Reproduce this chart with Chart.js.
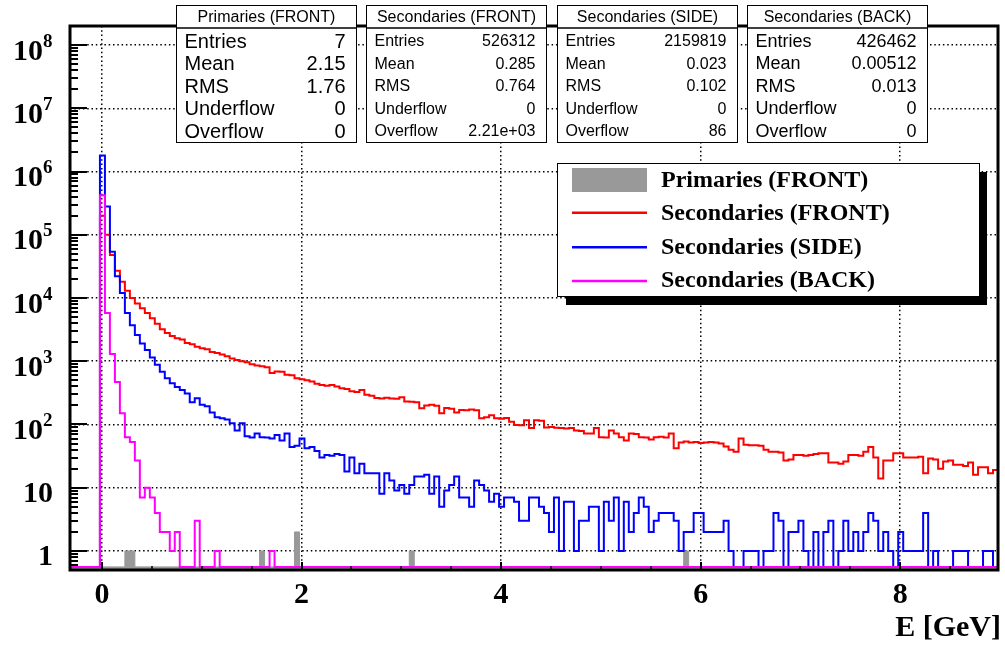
<!DOCTYPE html>
<html>
<head>
<meta charset="utf-8">
<script src="https://cdn.jsdelivr.net/npm/chart.js@4.4.1/dist/chart.umd.min.js"></script>
<style>
    html, body { margin: 0; padding: 0; background: #fff; }
    #wrap { width: 1005px; height: 646px; position: relative; }
</style>
</head>
<body>
<div id="wrap"><canvas id="energyChart"></canvas></div>
<script>
// ----------------------
//  DATA
// ----------------------

// binning of the histograms (GeV)
const binLow = -0.02;
const binWidth = 0.05;
const xMin = -0.32;
const xMax = 8.98;
const yMin = 0.5;
const yMax = 2e8;
// empty bins are drawn on the bottom of the frame, like ROOT does on a log axis
const zeroLevel = 0.56;

const primariesFront = [
    0, 0, 0, 0, 0, 1, 1, 0, 0, 0,
    0, 0, 0, 0, 0, 0, 0, 0, 0, 0,
    0, 0, 0, 0, 0, 0, 0, 0, 0, 0,
    0, 0, 1, 0, 0, 0, 0, 0, 0, 2,
    0, 0, 0, 0, 0, 0, 0, 0, 0, 0,
    0, 0, 0, 0, 0, 0, 0, 0, 0, 0,
    0, 0, 1, 0, 0, 0, 0, 0, 0, 0,
    0, 0, 0, 0, 0, 0, 0, 0, 0, 0,
    0, 0, 0, 0, 0, 0, 0, 0, 0, 0,
    0, 0, 0, 0, 0, 0, 0, 0, 0, 0,
    0, 0, 0, 0, 0, 0, 0, 0, 0, 0,
    0, 0, 0, 0, 0, 0, 0, 1, 0, 0,
    0, 0, 0, 0, 0, 0, 0, 0, 0, 0,
    0, 0, 0, 0, 0, 0, 0, 0, 0, 0,
    0, 0, 0, 0, 0, 0, 0, 0, 0, 0,
    0, 0, 0, 0, 0, 0, 0, 0, 0, 0,
    0, 0, 0, 0, 0, 0, 0, 0, 0, 0,
    0, 0, 0, 0, 0, 0, 0, 0, 0, 0
];

const secondariesFront = [
    200000, 100000, 48000, 27000, 18000, 13000, 10000, 8200, 6900, 5800,
    4800, 3900, 3200, 2800, 2500, 2300, 2200, 1950, 1850, 1700,
    1600, 1550, 1400, 1350, 1280, 1200, 1100, 1050, 1000, 960,
    900, 860, 830, 800, 650, 690, 680, 610, 600, 540,
    520, 500, 480, 440, 420, 410, 420, 400, 375, 365,
    335, 325, 350, 295, 285, 262, 258, 265, 258, 255,
    270, 230, 228, 225, 180, 200, 205, 198, 150, 182,
    178, 155, 170, 168, 172, 168, 125, 130, 140, 125,
    123, 127, 110, 98, 97, 117, 88, 117, 115, 90,
    91, 89, 88, 86, 88, 80, 79, 72, 72, 88,
    63, 62, 80, 72, 63, 56, 72, 71, 63, 62,
    58, 63, 64, 62, 72, 42, 52, 54, 52, 53,
    51, 52, 53, 52, 50, 45, 40, 37, 60, 48,
    47, 47, 46, 40, 37, 37, 36, 27, 28, 33,
    33, 32, 33, 34, 35, 35, 25, 25, 24, 26,
    33, 33, 32, 37, 44, 30, 14, 27, 27, 35,
    35, 30, 30, 30, 31, 17, 29, 28, 20, 26,
    27, 23, 23, 22, 25, 16, 21, 21, 17, 19
];

const secondariesSide = [
    1800000, 280000, 54000, 22000, 12000, 5800, 3700, 2600, 1900, 1500,
    1150, 880, 680, 540, 450, 390, 350, 310, 225, 260,
    205, 195, 155, 130, 125, 120, 105, 80, 105, 65,
    62, 72, 63, 62, 60, 68, 56, 72, 44, 46,
    60, 42, 44, 38, 30, 33, 32, 34, 33, 18,
    30, 17, 24, 17, 17, 17, 8, 17, 13, 9,
    11, 8, 11, 15, 15, 16, 8, 15, 5, 9,
    11, 15, 7, 7, 5, 13, 11, 9, 6, 8,
    5, 7, 7, 6, 3, 3, 7, 7, 5, 4,
    2, 7, 1, 6, 6, 1, 3, 3, 5, 5,
    1, 6, 3, 7, 1, 6, 2, 4, 7, 5,
    2, 3, 4, 4, 4, 3, 1, 2, 2, 4,
    4, 2, 2, 2, 2, 3, 1, 0, 0, 1,
    1, 1, 0, 1, 1, 4, 3, 0, 2, 2,
    3, 1, 0, 2, 0, 2, 3, 0, 1, 3,
    1, 2, 1, 2, 4, 3, 1, 2, 1, 0,
    2, 1, 1, 1, 1, 4, 0, 1, 0, 0,
    0, 1, 1, 1, 0, 0, 0, 1, 1, 0
];

const secondariesBack = [
    420000, 5800, 1300, 470, 150, 63, 53, 27, 7, 10,
    7, 4, 2, 2, 1, 2, 0, 0, 0, 3,
    0, 0, 0, 1, 0, 0, 0, 0, 0, 0,
    0, 0, 0, 0, 1, 0, 0, 0, 0, 0,
    0, 0, 0, 0, 0, 0, 0, 0, 0, 0,
    0, 0, 0, 0, 0, 0, 0, 0, 0, 0,
    0, 0, 0, 0, 0, 0, 0, 0, 0, 0,
    0, 0, 0, 0, 0, 0, 0, 0, 0, 0,
    0, 0, 0, 0, 0, 0, 0, 0, 0, 0,
    0, 0, 0, 0, 0, 0, 0, 0, 0, 0,
    0, 0, 0, 0, 0, 0, 0, 0, 0, 0,
    0, 0, 0, 0, 0, 0, 0, 0, 0, 0,
    0, 0, 0, 0, 0, 0, 0, 0, 0, 0,
    0, 0, 0, 0, 0, 0, 0, 0, 0, 0,
    0, 0, 0, 0, 0, 0, 0, 0, 0, 0,
    0, 0, 0, 0, 0, 0, 0, 0, 0, 0,
    0, 0, 0, 0, 0, 0, 0, 0, 0, 0,
    0, 0, 0, 0, 0, 0, 0, 0, 0, 0
];

const seriesNames = ['Primaries (FRONT)', 'Secondaries (FRONT)', 'Secondaries (SIDE)', 'Secondaries (BACK)'];
const seriesColors = ['#999999', '#ff0000', '#0000ff', '#ff00ff'];

// axis ticks
const xTicks = [0, 2, 4, 6, 8];
const xTickLabels = ['0', '2', '4', '6', '8'];
const yTicks = [1, 10, 1e2, 1e3, 1e4, 1e5, 1e6, 1e7, 1e8];
const yTickBase = ['1', '10', '10', '10', '10', '10', '10', '10', '10'];
const yTickExp = ['', '', '2', '3', '4', '5', '6', '7', '8'];
const xTitle = 'E [GeV]';

// statistics boxes
const statNames = ['Entries', 'Mean', 'RMS', 'Underflow', 'Overflow'];
const statPrimariesFront = ['7', '2.15', '1.76', '0', '0'];
const statSecondariesFront = ['526312', '0.285', '0.764', '0', '2.21e+03'];
const statSecondariesSide = ['2159819', '0.023', '0.102', '0', '86'];
const statSecondariesBack = ['426462', '0.00512', '0.013', '0', '0'];
const statValues = [statPrimariesFront, statSecondariesFront, statSecondariesSide, statSecondariesBack];

// ----------------------
//  CHART
// ----------------------

// step outline: one point on each lower bin edge, plus the upper edge of the last bin
function histPoints(counts) {
    const pts = [{ x: xMin, y: zeroLevel }];
    counts.forEach(function (c, i) {
        pts.push({ x: binLow + i * binWidth, y: c > 0 ? c : zeroLevel });
    });
    const last = counts[counts.length - 1];
    pts.push({ x: binLow + counts.length * binWidth, y: last > 0 ? last : zeroLevel });
    return pts;
}

const serif = '"Liberation Serif", "Times New Roman", serif';
const sans = '"Liberation Sans", Arial, sans-serif';

const rootDecor = {
    id: 'rootDecor',
    afterDraw(chart) {
        const ctx = chart.ctx;
        const a = chart.chartArea;
        const xs = chart.scales.x;
        const ys = chart.scales.y;
        ctx.save();
        ctx.strokeStyle = '#000';
        ctx.fillStyle = '#000';

        // y ticks (major and minor), ROOT style inside the frame
        ctx.lineWidth = 2;
        for (let e = -1; e <= 8; e++) {
            for (let m = 2; m <= 9; m++) {
                const v = m * Math.pow(10, e);
                if (v < yMin || v > yMax) continue;
                const py = Math.round(ys.getPixelForValue(v));
                ctx.beginPath();
                ctx.moveTo(a.left, py);
                ctx.lineTo(a.left + 8, py);
                ctx.stroke();
            }
        }
        yTicks.forEach(function (v) {
            const py = Math.round(ys.getPixelForValue(v));
            ctx.beginPath();
            ctx.moveTo(a.left, py);
            ctx.lineTo(a.left + 17, py);
            ctx.stroke();
        });

        // x ticks
        for (let v = 0; v <= xMax; v += 0.5) {
            const px = Math.round(xs.getPixelForValue(v));
            const major = xTicks.indexOf(v) >= 0;
            ctx.lineWidth = major ? 2 : 1.5;
            ctx.beginPath();
            ctx.moveTo(px, a.bottom);
            ctx.lineTo(px, a.bottom - (major ? 8 : 4));
            ctx.stroke();
        }

        // frame
        ctx.lineWidth = 3;
        ctx.strokeRect(a.left, a.top, a.right - a.left, a.bottom - a.top);

        // y labels
        yTicks.forEach(function (v, i) {
            const py = ys.getPixelForValue(v);
            ctx.font = 'bold 30px ' + serif;
            ctx.textBaseline = 'alphabetic';
            if (yTickExp[i] === '') {
                ctx.textAlign = 'right';
                ctx.fillText(yTickBase[i], 53, py + 14.5);
            } else {
                ctx.textAlign = 'right';
                ctx.fillText(yTickBase[i], 43, py + 14.5);
                ctx.font = 'bold 19px ' + serif;
                ctx.textAlign = 'left';
                ctx.fillText(yTickExp[i], 43, py + 1.5);
            }
        });

        // x labels and title
        ctx.font = 'bold 30px ' + serif;
        ctx.textAlign = 'center';
        xTicks.forEach(function (v, i) {
            ctx.fillText(xTickLabels[i], xs.getPixelForValue(v), 603);
        });
        ctx.textAlign = 'right';
        ctx.fillText(xTitle, 1001, 636);

        // statistics boxes
        const boxLeft = [176, 366, 557, 747];
        const rowFont = [20, 16, 16, 18];
        seriesNames.forEach(function (name, b) {
            const x0 = boxLeft[b] + 0.5;
            ctx.fillStyle = '#fff';
            ctx.fillRect(x0, 5.5, 180, 137);
            ctx.lineWidth = 1;
            ctx.strokeStyle = '#000';
            ctx.strokeRect(x0, 5.5, 180, 22.5);
            ctx.strokeRect(x0, 28, 180, 114.5);
            ctx.fillStyle = '#000';
            ctx.textBaseline = 'middle';
            ctx.font = '16px ' + sans;
            ctx.textAlign = 'center';
            ctx.fillText(name, x0 + 90, 17.5);
            ctx.font = rowFont[b] + 'px ' + sans;
            statNames.forEach(function (s, r) {
                const ry = 42 + 22.5 * r;
                ctx.textAlign = 'left';
                ctx.fillText(s, x0 + 8, ry);
                ctx.textAlign = 'right';
                ctx.fillText(statValues[b][r], x0 + 169, ry);
            });
        });

        // legend with shadow
        ctx.fillStyle = '#000';
        ctx.fillRect(566, 172, 421, 133);
        ctx.fillStyle = '#fff';
        ctx.fillRect(557, 163, 423, 134);
        ctx.lineWidth = 1;
        ctx.strokeRect(557.5, 163.5, 422, 133);
        const baselines = [187, 220, 254, 287];
        const lineYs = [180, 212.7, 247.3, 281];
        seriesNames.forEach(function (name, i) {
            if (i === 0) {
                ctx.fillStyle = seriesColors[0];
                ctx.fillRect(572, 168, 75, 24);
            } else {
                ctx.strokeStyle = seriesColors[i];
                ctx.lineWidth = 2.5;
                ctx.beginPath();
                ctx.moveTo(572, lineYs[i]);
                ctx.lineTo(647, lineYs[i]);
                ctx.stroke();
            }
            ctx.fillStyle = '#000';
            ctx.font = 'bold 24px ' + serif;
            ctx.textAlign = 'left';
            ctx.textBaseline = 'alphabetic';
            ctx.fillText(name, 661, baselines[i]);
        });
        ctx.restore();
    }
};

const chartData = {
    datasets: [{
        label: seriesNames[0],
        data: histPoints(primariesFront),
        stepped: true,
        borderColor: seriesColors[0],
        backgroundColor: seriesColors[0],
        borderWidth: 1,
        fill: 'start',
        order: 4
    }, {
        label: seriesNames[1],
        data: histPoints(secondariesFront),
        stepped: true,
        borderColor: seriesColors[1],
        borderWidth: 2,
        fill: false,
        order: 3
    }, {
        label: seriesNames[2],
        data: histPoints(secondariesSide),
        stepped: true,
        borderColor: seriesColors[2],
        borderWidth: 2,
        fill: false,
        order: 2
    }, {
        label: seriesNames[3],
        data: histPoints(secondariesBack),
        stepped: true,
        borderColor: seriesColors[3],
        borderWidth: 2,
        fill: false,
        order: 1
    }]
};

const options = {
    responsive: true,
    maintainAspectRatio: false,
    animation: false,
    devicePixelRatio: 1,
    events: [],
    layout: {
        padding: { top: 26, right: 7, left: 0, bottom: 0 }
    },
    elements: {
        point: { radius: 0 }
    },
    plugins: {
        legend: { display: false },
        tooltip: { enabled: false }
    },
    scales: {
        x: {
            type: 'linear',
            min: xMin,
            max: xMax,
            bounds: 'data',
            afterBuildTicks: function (scale) {
                scale.ticks = xTicks.map(function (v) { return { value: v }; });
            },
            afterFit: function (scale) { scale.height = 76; },
            ticks: { display: false },
            grid: { color: '#000', lineWidth: 1.5, drawTicks: false },
            border: { display: false, dash: [1.5, 2.8] }
        },
        y: {
            type: 'logarithmic',
            min: yMin,
            max: yMax,
            bounds: 'data',
            afterBuildTicks: function (scale) {
                scale.ticks = yTicks.map(function (v) { return { value: v }; });
            },
            afterFit: function (scale) { scale.width = 70; },
            ticks: { display: false },
            grid: { color: '#000', lineWidth: 1.5, drawTicks: false },
            border: { display: false, dash: [1.5, 2.8] }
        }
    }
};

Chart.defaults.font.family = sans;
const ctx = document.getElementById('energyChart').getContext('2d');
const energyChart = new Chart(ctx, {
    type: 'line',
    data: chartData,
    options: options,
    plugins: [rootDecor]
});
</script>
</body>
</html>
